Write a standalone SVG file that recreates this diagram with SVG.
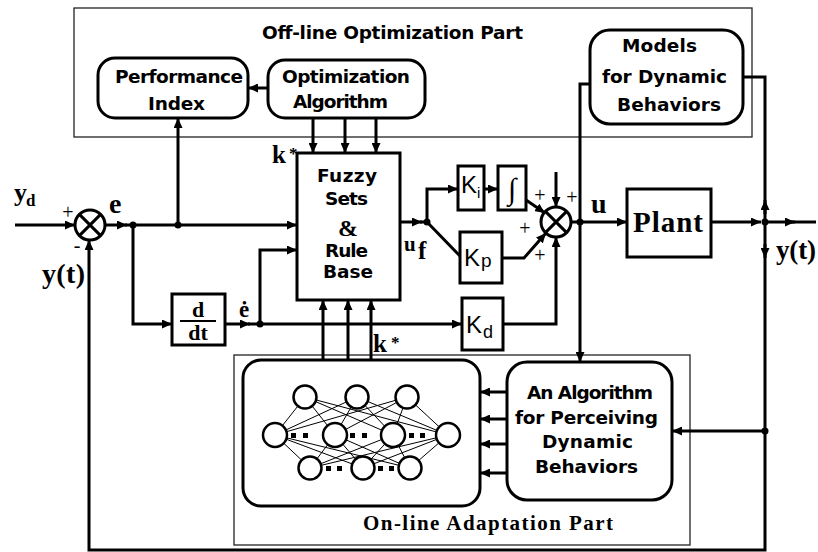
<svg xmlns="http://www.w3.org/2000/svg" width="818" height="552" viewBox="0 0 818 552">
<defs>
<style>
.ln{stroke:#000;stroke-width:3;fill:none}
.thin{stroke:#000;stroke-width:1;fill:none}
.box{fill:#fff;stroke:#000;stroke-width:3}
.part{fill:none;stroke:#222;stroke-width:1.3}
.nc{fill:#fff;stroke:#000;stroke-width:2.5}
.sans{font-family:"DejaVu Sans","Liberation Sans",sans-serif;font-weight:bold;font-size:18.5px;fill:#000}
.ser{font-family:"Liberation Serif",serif;font-weight:bold;fill:#000}
.ks{font-family:"Liberation Sans",sans-serif;fill:#000}
.pl{font-family:"Liberation Serif",serif;font-size:20px;text-anchor:middle;fill:#000}
.dot{fill:#000}
</style>
<marker id="a" markerUnits="userSpaceOnUse" markerWidth="10" markerHeight="9" refX="10" refY="4.5" orient="auto"><path d="M0,0 L10,4.5 L0,9 z"/></marker>
</defs>
<rect width="818" height="552" fill="#fff"/>

<g id="offline-part">
<rect class="part" x="74" y="8" width="678" height="129"/>
<text class="sans" x="262" y="39" textLength="261">Off-line Optimization Part</text>
</g>
<g id="online-part">
<rect class="part" x="234" y="355" width="456" height="190"/>
<text class="ser" x="363" y="530" font-size="21" font-weight="normal" textLength="250">On-line Adaptation Part</text>
</g>

<g id="connectors">
<path class="ln" marker-end="url(#a)" d="M15,225 H75"/>
<path class="ln" marker-end="url(#a)" d="M105,225 H127"/>
<path class="ln" marker-end="url(#a)" d="M125,225 H297"/>
<path class="ln" marker-end="url(#a)" d="M178,225 V118"/>
<path class="ln" marker-end="url(#a)" d="M133,225 V324 H172"/>
<path class="ln" marker-end="url(#a)" d="M225,324 H250"/>
<path class="ln" marker-end="url(#a)" d="M248,324 H462"/>
<path class="ln" marker-end="url(#a)" d="M260,324 V250 H297"/>
<path class="ln" marker-end="url(#a)" d="M313,118 V153"/>
<path class="ln" marker-end="url(#a)" d="M345,118 V153"/>
<path class="ln" marker-end="url(#a)" d="M376,118 V153"/>
<path class="ln" marker-end="url(#a)" d="M323,360 V300"/>
<path class="ln" marker-end="url(#a)" d="M348,360 V300"/>
<path class="ln" marker-end="url(#a)" d="M371,360 V300"/>
<path class="ln" marker-end="url(#a)" d="M268,88 H248"/>
<path class="ln" marker-end="url(#a)" d="M400,222 H422"/>
<path class="ln" d="M420,222 H427"/>
<path class="ln" marker-end="url(#a)" d="M427,222 V189 H458"/>
<path class="ln" marker-end="url(#a)" d="M484,189 H498"/>
<path class="ln" d="M427,222 L460,256"/>
<path class="ln" marker-end="url(#a)" d="M526,200 L545,213"/>
<path class="ln" marker-end="url(#a)" d="M502,258 H524 L546,233"/>
<path class="ln" marker-end="url(#a)" d="M556,172 V207"/>
<path class="ln" marker-end="url(#a)" d="M503,324 H556 V237"/>
<path class="ln" marker-end="url(#a)" d="M571,222 H627"/>
<path class="ln" marker-end="url(#a)" d="M590,84 H580 V362"/>
<path class="ln" marker-end="url(#a)" d="M711,222 H761"/>
<path class="ln" marker-end="url(#a)" d="M765,222 H795"/>
<path class="ln" d="M790,222 H816"/>
<path class="ln" marker-end="url(#a)" d="M743,77 H765 V550 H89 V240"/>
<path class="ln" marker-end="url(#a)" d="M765,214 V200"/>
<path class="ln" marker-end="url(#a)" d="M765,244 V258"/>
<path class="ln" marker-end="url(#a)" d="M765,431 H672"/>
<path class="ln" marker-end="url(#a)" d="M507,392 H480"/>
<path class="ln" marker-end="url(#a)" d="M507,419 H480"/>
<path class="ln" marker-end="url(#a)" d="M507,444 H480"/>
<path class="ln" marker-end="url(#a)" d="M507,473 H480"/>
<circle class="dot" cx="133" cy="225" r="3.5"/>
<circle class="dot" cx="178" cy="225" r="3.5"/>
<circle class="dot" cx="260" cy="324" r="3.5"/>
<circle class="dot" cx="427" cy="222" r="3.5"/>
<circle class="dot" cx="580" cy="222" r="3.5"/>
<circle class="dot" cx="765" cy="222" r="3.5"/>
<circle class="dot" cx="765" cy="431" r="3.5"/>
</g>

<g id="performance-index">
<rect class="box" x="98" y="58" width="150" height="60" rx="17"/>
<text class="sans" x="115" y="83" textLength="128">Performance</text>
<text class="sans" x="148" y="110" textLength="57">Index</text>
</g>
<g id="optimization-algorithm">
<rect class="box" x="268" y="60" width="157" height="58" rx="17"/>
<text class="sans" x="282" y="83" textLength="128">Optimization</text>
<text class="sans" x="293" y="108" textLength="95">Algorithm</text>
</g>
<g id="models">
<rect class="box" x="590" y="30" width="153" height="94" rx="20"/>
<text class="sans" x="622" y="52" textLength="75">Models</text>
<text class="sans" x="602" y="83" textLength="125">for Dynamic</text>
<text class="sans" x="617" y="111" textLength="104">Behaviors</text>
</g>
<g id="fuzzy">
<rect class="box" x="297" y="153" width="103" height="147"/>
<text class="sans" x="317" y="182" textLength="60">Fuzzy</text>
<text class="sans" x="325" y="205" textLength="43">Sets</text>
<text class="ser" x="348" y="236" font-size="24" text-anchor="middle">&amp;</text>
<text class="sans" x="325" y="257" textLength="43">Rule</text>
<text class="sans" x="323" y="278" textLength="50">Base</text>
</g>
<g id="sum1">
<circle cx="90" cy="225" r="15" fill="#fff" stroke="#000" stroke-width="3"/>
<path class="ln" stroke-width="2" d="M79.4,214.4 L100.6,235.6 M100.6,214.4 L79.4,235.6"/>
</g>
<g id="sum2">
<circle cx="556" cy="222" r="15" fill="#fff" stroke="#000" stroke-width="3"/>
<path class="ln" stroke-width="2" d="M545.4,211.4 L566.6,232.6 M566.6,211.4 L545.4,232.6"/>
</g>
<g id="ddt">
<rect class="box" x="172" y="294" width="53" height="51"/>
<text class="ser" x="198" y="317" font-size="22" text-anchor="middle">d</text>
<path d="M180,321 H216" stroke="#000" stroke-width="2"/>
<text class="ser" x="198" y="340" font-size="22" text-anchor="middle">dt</text>
</g>
<g id="ki">
<rect class="box" x="458" y="166" width="26" height="44"/>
<text class="ks" x="461" y="193" font-size="24">K</text>
<text class="ks" x="477" y="198" font-size="15">i</text>
</g>
<g id="integral">
<rect class="box" x="498" y="166" width="28" height="44"/>
<text x="512" y="199" font-family="Liberation Serif, serif" font-size="30" text-anchor="middle" fill="#000">∫</text>
</g>
<g id="kp">
<rect class="box" x="460" y="232" width="42" height="51"/>
<text class="ks" x="464" y="266" font-size="24">K</text>
<text class="ks" x="481" y="267" font-size="19">p</text>
</g>
<g id="kd">
<rect class="box" x="462" y="298" width="41" height="52"/>
<text class="ks" x="466" y="333" font-size="24">K</text>
<text class="ks" x="483" y="338" font-size="18">d</text>
</g>
<g id="plant">
<rect class="box" x="627" y="189" width="84" height="68"/>
<text class="ser" x="633" y="232" font-size="29" textLength="70">Plant</text>
</g>
<g id="neural-network">
<rect class="box" x="243" y="360" width="237" height="146" rx="18"/>
<path class="thin" d="M305,397L275,435M305,397L335,435M305,397L393,435M305,397L448,435M357,397L275,435M357,397L335,435M357,397L393,435M357,397L448,435M407,397L275,435M407,397L335,435M407,397L393,435M407,397L448,435M275,435L310,468M275,435L363,468M275,435L410,468M335,435L310,468M335,435L363,468M335,435L410,468M393,435L310,468M393,435L363,468M393,435L410,468M448,435L310,468M448,435L363,468M448,435L410,468"/>
<circle class="nc" cx="305" cy="397" r="11.5"/>
<circle class="nc" cx="357" cy="397" r="11.5"/>
<circle class="nc" cx="407" cy="397" r="11.5"/>
<circle class="nc" cx="275" cy="435" r="12"/>
<circle class="nc" cx="335" cy="435" r="12"/>
<circle class="nc" cx="393" cy="435" r="12"/>
<circle class="nc" cx="448" cy="435" r="12"/>
<circle class="nc" cx="310" cy="468" r="11.5"/>
<circle class="nc" cx="363" cy="468" r="11.5"/>
<circle class="nc" cx="410" cy="468" r="11.5"/>
<g class="dot">
<rect x="291" y="433" width="5" height="5"/><rect x="303" y="433" width="5" height="5"/>
<rect x="350" y="433" width="5" height="5"/><rect x="362" y="433" width="5" height="5"/>
<rect x="409" y="433" width="5" height="5"/><rect x="420" y="433" width="5" height="5"/>
<rect x="326" y="466" width="5" height="5"/><rect x="337" y="466" width="5" height="5"/>
<rect x="378" y="466" width="5" height="5"/><rect x="389" y="466" width="5" height="5"/>
</g>
</g>
<g id="perceiving-algorithm">
<rect class="box" x="507" y="362" width="165" height="138" rx="20"/>
<text class="sans" x="527" y="399" textLength="126">An Algorithm</text>
<text class="sans" x="515" y="424" textLength="143">for Perceiving</text>
<text class="sans" x="542" y="448" textLength="91">Dynamic</text>
<text class="sans" x="535" y="473" textLength="103">Behaviors</text>
</g>

<g id="labels">
<text class="ser" x="14" y="201" font-size="26">y</text>
<text class="ser" x="26" y="206" font-size="17">d</text>
<text class="pl" x="68" y="219">+</text>
<text class="pl" x="77" y="252">-</text>
<text class="ser" x="109" y="213" font-size="28">e</text>
<text class="ser" x="42" y="283" font-size="28" textLength="43">y(t)</text>
<text class="ser" x="239" y="317" font-size="23">ė</text>
<text class="ser" x="272" y="163" font-size="25">k</text>
<text class="ser" x="289" y="159" font-size="17">*</text>
<text class="ser" x="373" y="352" font-size="25">k</text>
<text class="ser" x="391" y="348" font-size="17">*</text>
<text class="ser" x="404" y="251" font-size="21">u</text>
<text class="ser" x="418" y="259" font-size="25">f</text>
<text class="ser" x="591" y="213" font-size="28">u</text>
<text class="ser" x="776" y="259" font-size="27" textLength="40">y(t)</text>
<text class="pl" x="540" y="202">+</text>
<text class="pl" x="572" y="204">+</text>
<text class="pl" x="525" y="235">+</text>
<text class="pl" x="540" y="262">+</text>
</g>
</svg>
